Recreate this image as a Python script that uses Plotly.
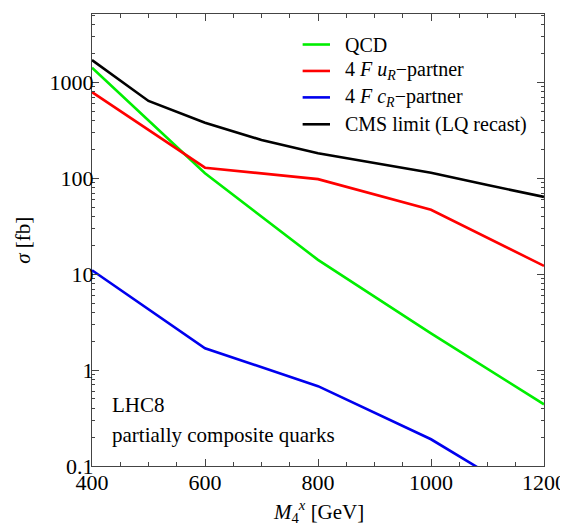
import plotly.graph_objects as go

mass = [400, 600, 800, 1000, 1200]
qcd = [1420, 113, 14.1, 2.42, 0.44]
u_partner = [790, 129, 98, 47, 12.2]
c_partner = [11, 1.69, 0.68, 0.19, 0.037]

cms_mass = [400, 500, 600, 700, 800, 900, 1000, 1100, 1200]
cms_limit = [1710, 640, 380, 251, 182, 143, 114, 85, 64]

y_tickvals = [0.1, 1, 10, 100, 1000]
y_ticktext = ["0.1", "1", "10", "100", "1000"]
x_tickvals = [400, 600, 800, 1000, 1200]

series_names = ["QCD",
                "4 <i>F</i> <i>u</i><sub><i>R</i></sub>\u2212partner",
                "4 <i>F</i> <i>c</i><sub><i>R</i></sub>\u2212partner",
                "CMS limit (LQ recast)"]
series_colors = ["#00ee00", "#ff0000", "#0000ee", "#000000"]

FONT = "Liberation Serif"
LW = 2.6

fig = go.Figure()
for xs, ys, nm, col in [(mass, qcd, series_names[0], series_colors[0]),
                        (mass, u_partner, series_names[1], series_colors[1]),
                        (mass, c_partner, series_names[2], series_colors[2]),
                        (cms_mass, cms_limit, series_names[3], series_colors[3])]:
    fig.add_trace(go.Scatter(x=xs, y=ys, mode="lines", name=nm,
                             line=dict(color=col, width=LW), showlegend=False))

minor_y = [m * 10 ** e for e in range(-1, 4) for m in range(2, 10)]

# manual legend (rows in paper coordinates)
legend_rows = [0.9325, 0.874, 0.8155, 0.756]
shapes = []
annotations = []
for yy, nm, col in zip(legend_rows, series_names, series_colors):
    shapes.append(dict(type="line", xref="paper", yref="paper",
                       x0=0.466, x1=0.5265, y0=yy, y1=yy,
                       line=dict(color=col, width=LW)))
    annotations.append(dict(text=nm, xref="paper", yref="paper", x=0.5555, y=yy,
                            xanchor="left", yanchor="middle", showarrow=False,
                            font=dict(family=FONT, size=20, color="black")))

annotations += [
    dict(text="LHC8", xref="paper", yref="paper", x=0.04, y=0.134,
         xanchor="left", yanchor="middle", showarrow=False,
         font=dict(family=FONT, size=21)),
    dict(text="partially composite quarks", xref="paper", yref="paper",
         x=0.04, y=0.069, xanchor="left", yanchor="middle", showarrow=False,
         font=dict(family=FONT, size=21)),
    dict(text="<i>M</i><sub>4</sub><sup><i>x</i></sup> [GeV]", xref="paper", yref="paper",
         x=0.5, y=-0.101, xanchor="center", yanchor="middle", showarrow=False,
         font=dict(family=FONT, size=21)),
    dict(text="<i>\u03c3</i> [fb]", xref="paper", yref="paper",
         x=-0.153, y=0.5, xanchor="center", yanchor="middle", showarrow=False,
         textangle=-90, font=dict(family=FONT, size=21)),
]

# the page adds an 8px body margin, so the figure margins are reduced by 8px
fig.update_layout(
    width=568, height=530,
    margin=dict(l=84, r=32, t=6, b=72, autoexpand=False),
    paper_bgcolor="white", plot_bgcolor="white",
    font=dict(family=FONT, size=22, color="black"),
    showlegend=False,
    xaxis=dict(range=[400, 1200], tickvals=x_tickvals, automargin=False,
               ticks="inside", ticklen=7, tickwidth=1, tickcolor="#444",
               minor=dict(dtick=50, ticks="inside", ticklen=4, tickcolor="#444"),
               showline=True, linecolor="#444", linewidth=1.2, mirror="ticks",
               showgrid=False, zeroline=False, ticklabelstandoff=-4,
               tickfont=dict(family=FONT, size=22)),
    yaxis=dict(type="log", range=[-1, 3.713], automargin=False,
               tickvals=y_tickvals, ticktext=y_ticktext,
               ticks="inside", ticklen=7, tickwidth=1, tickcolor="#444",
               minor=dict(tickvals=minor_y, ticks="inside", ticklen=3, tickcolor="#444"),
               showline=True, linecolor="#444", linewidth=1.2, mirror="ticks",
               showgrid=False, zeroline=False, ticklabelstandoff=-7,
               tickfont=dict(family=FONT, size=22)),
    shapes=shapes,
    annotations=annotations,
)

fig.write_html("out.html")
